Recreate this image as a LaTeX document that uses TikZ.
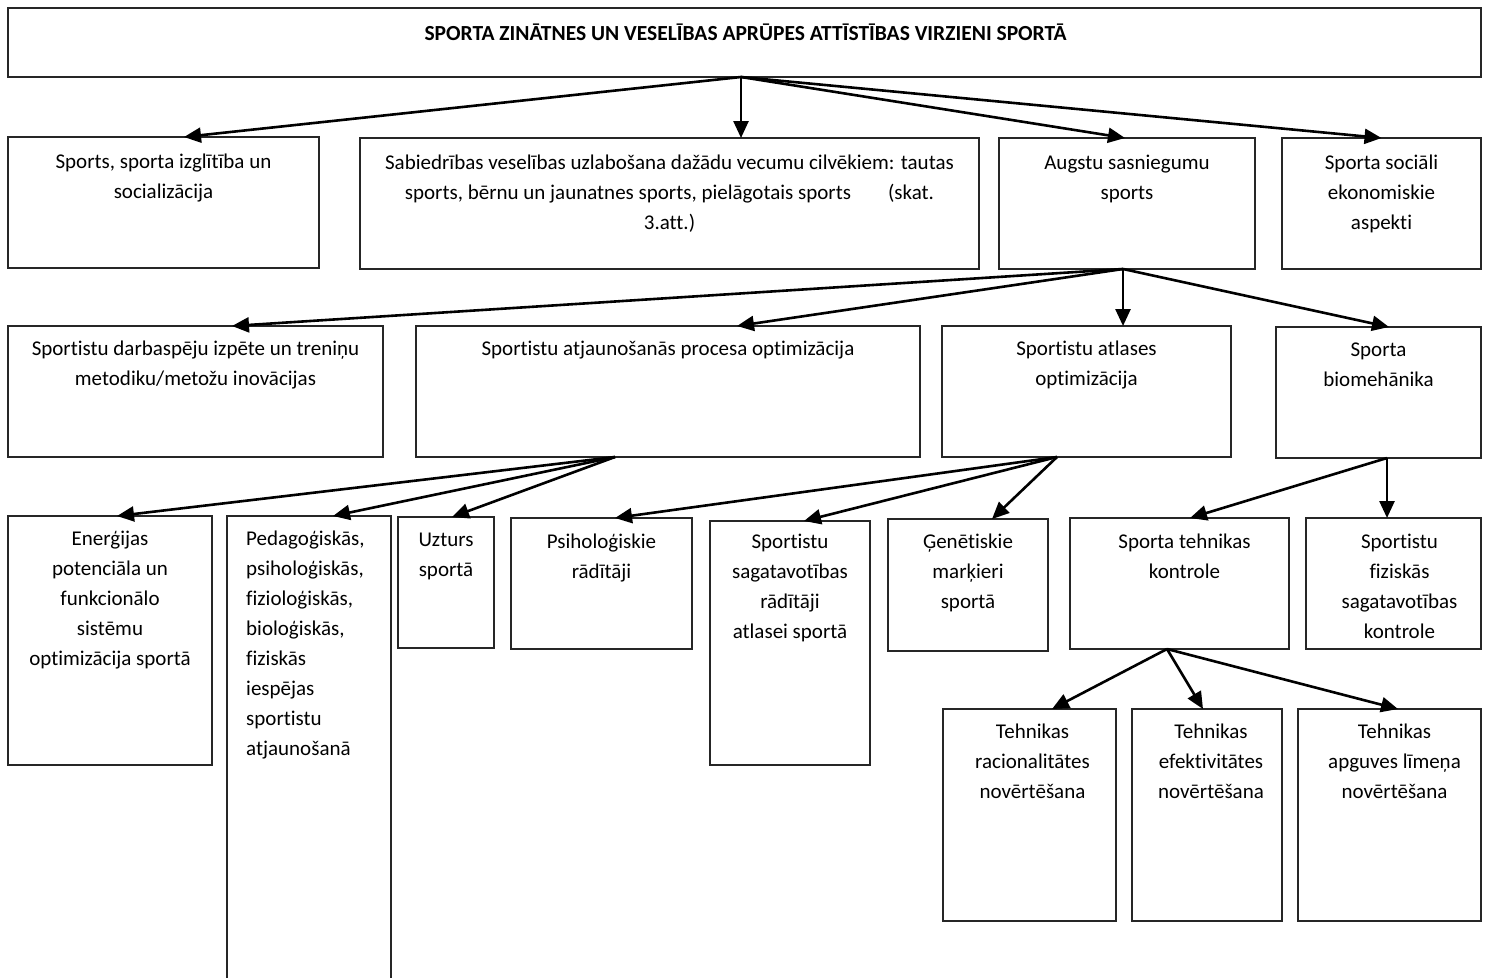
\documentclass[tikz,border=0pt]{standalone}
\usepackage{fontspec}
\setmainfont[Ligatures={NoCommon}]{Carlito}
\usetikzlibrary{arrows.meta,calc}
\tikzset{
  box/.style={draw=black!85, line width=1.2pt, inner sep=0pt, outer sep=0pt},
  ghost/.style={inner sep=0pt, outer sep=0pt},
  txt/.style={font=\fontsize{21}{30}\selectfont, align=center, inner sep=0pt, anchor=north},
  ltxt/.style={font=\fontsize{21}{30}\selectfont, align=left, inner sep=0pt, anchor=north west},
  arr/.style={line width=2.6pt, -{Triangle[length=17pt,width=15pt]}},
}
\newcommand\mybox[6][box]{\node[#1, minimum width={(#5-#3)*1pt}, minimum height={(#6-#4)*1pt}] (#2) at ({(#3+#5)/2},{(#4+#6)/2}) {};}
\begin{document}
\begin{tikzpicture}[x=1pt,y=-1pt]
\useasboundingbox (0,0) rectangle (1490,977);
% boxes
\mybox{top}{8}{8}{1481}{77}
\mybox{b1}{8}{137}{319}{268}
\mybox{b2}{360}{138}{979}{269}
\mybox{b3}{999}{138}{1255}{269}
\mybox{b4}{1282}{138}{1481}{269}
\mybox{c1}{8}{326}{383}{457}
\mybox{c2}{416}{326}{920}{457}
\mybox{c3}{942}{326}{1231}{457}
\mybox{c4}{1276}{327}{1481}{458}
\mybox{d1}{8}{516}{212}{765}
\mybox[ghost]{d2}{227}{516}{391}{980}
\draw[draw=black!85, line width=1.2pt] (d2.south west) -- (d2.north west) -- (d2.north east) -- (d2.south east);
\mybox{d3}{398}{517}{494}{648}
\mybox{d4}{511}{518}{692}{649}
\mybox{d5}{710}{521}{870}{765}
\mybox{d6}{888}{519}{1048}{651}
\mybox{d7}{1070}{518}{1289}{649}
\mybox{d8}{1306}{518}{1481}{649}
\mybox{e1}{943}{709}{1116}{921}
\mybox{e2}{1132}{709}{1282}{921}
\mybox{e3}{1298}{709}{1481}{921}
% texts
\node[txt, font=\fontsize{21.5}{30}\selectfont\bfseries] (topt) at ([xshift=1pt,yshift=-11pt]top.north) {\strut SPORTA ZINĀTNES UN VESELĪBAS APRŪPES ATTĪSTĪBAS VIRZIENI SPORTĀ};
\node[txt] (b1t) at ([yshift=-10pt]b1.north) {\strut Sports, sporta izglītība un\\socializācija};
\node[txt] (b2t) at ([yshift=-10pt]b2.north) {\strut Sabiedrības veselības uzlabošana dažādu vecumu cilvēkiem: tautas\\sports, bērnu un jaunatnes sports, pielāgotais sports\hspace{37pt}(skat.\\3.att.)};
\node[txt] (b3t) at ([yshift=-10pt]b3.north) {\strut Augstu sasniegumu\\sports};
\node[txt] (b4t) at ([yshift=-10pt]b4.north) {\strut Sporta sociāli\\ekonomiskie\\aspekti};
\node[txt] (c1t) at ([yshift=-8pt]c1.north) {\strut Sportistu darbaspēju izpēte un treniņu\\metodiku/metožu inovācijas};
\node[txt] (c2t) at ([yshift=-8pt]c2.north) {\strut Sportistu atjaunošanās procesa optimizācija};
\node[txt] (c3t) at ([yshift=-8pt]c3.north) {\strut Sportistu atlases\\optimizācija};
\node[txt] (c4t) at ([yshift=-8pt]c4.north) {\strut Sporta\\biomehānika};
\node[txt] (d1t) at ([yshift=-8pt]d1.north) {\strut Enerģijas\\potenciāla un\\funkcionālo\\sistēmu\\optimizācija sportā};
\node[ltxt] (d2t) at (246,524) {\strut Pedagoģiskās,\\psiholoģiskās,\\fizioloģiskās,\\bioloģiskās,\\fiziskās\\iespējas\\sportistu\\atjaunošanā};
\node[txt] (d3t) at ([yshift=-8pt]d3.north) {\strut Uzturs\\sportā};
\node[txt] (d4t) at ([yshift=-9pt]d4.north) {\strut Psiholoģiskie\\rādītāji};
\node[txt] (d5t) at ([yshift=-6pt]d5.north) {\strut Sportistu\\sagatavotības\\rādītāji\\atlasei sportā};
\node[txt] (d6t) at ([yshift=-8pt]d6.north) {\strut Ģenētiskie\\marķieri\\sportā};
\node[txt] (d7t) at ([xshift=5pt,yshift=-9pt]d7.north) {\strut Sporta tehnikas\\kontrole};
\node[txt] (d8t) at ([xshift=6pt,yshift=-9pt]d8.north) {\strut Sportistu\\fiziskās\\sagatavotības\\kontrole};
\node[txt] (e1t) at ([xshift=3pt,yshift=-8pt]e1.north) {\strut Tehnikas\\racionalitātes\\novērtēšana};
\node[txt] (e2t) at ([xshift=4pt,yshift=-8pt]e2.north) {\strut Tehnikas\\efektivitātes\\novērtēšana};
\node[txt] (e3t) at ([xshift=5pt,yshift=-8pt]e3.north) {\strut Tehnikas\\apguves līmeņa\\novērtēšana};
% arrows
\draw[arr] ([xshift=-3.5pt]top.south) -- ([xshift=20.5pt]b1.north);
\draw[arr] ([xshift=-3.5pt]top.south) -- ([xshift=71.5pt]b2.north);
\draw[arr] ([xshift=-3.5pt]top.south) -- ([xshift=-2pt]b3.north);
\draw[arr] ([xshift=-3.5pt]top.south) -- (b4.north);
\draw[arr] ([xshift=-4pt]b3.south) -- ([xshift=36.5pt]c1.north);
\draw[arr] ([xshift=-4pt]b3.south) -- ([xshift=69pt]c2.north);
\draw[arr] ([xshift=-4pt]b3.south) -- ([xshift=36.5pt]c3.north);
\draw[arr] ([xshift=-4pt]b3.south) -- ([xshift=10.5pt]c4.north);
\draw[arr] ([xshift=-53pt]c2.south) -- ([xshift=7pt]d1.north);
\draw[arr] ([xshift=-53pt]c2.south) -- ([xshift=24pt]d2.north);
\draw[arr] ([xshift=-53pt]c2.south) -- ([xshift=6pt]d3.north);
\draw[arr] ([xshift=-29.5pt]c3.south) -- ([xshift=13.5pt]d4.north);
\draw[arr] ([xshift=-29.5pt]c3.south) -- ([xshift=14pt]d5.north);
\draw[arr] ([xshift=-29.5pt]c3.south) -- ([xshift=24pt]d6.north);
\draw[arr] ([xshift=8.5pt]c4.south) -- ([xshift=10.5pt]d7.north);
\draw[arr] ([xshift=8.5pt]c4.south) -- ([xshift=-6.5pt]d8.north);
\draw[arr] ([xshift=-12.5pt]d7.south) -- ([xshift=22.5pt]e1.north);
\draw[arr] ([xshift=-12.5pt]d7.south) -- ([xshift=-4pt]e2.north);
\draw[arr] ([xshift=-12.5pt]d7.south) -- ([xshift=8.5pt]e3.north);
\end{tikzpicture}
\end{document}
